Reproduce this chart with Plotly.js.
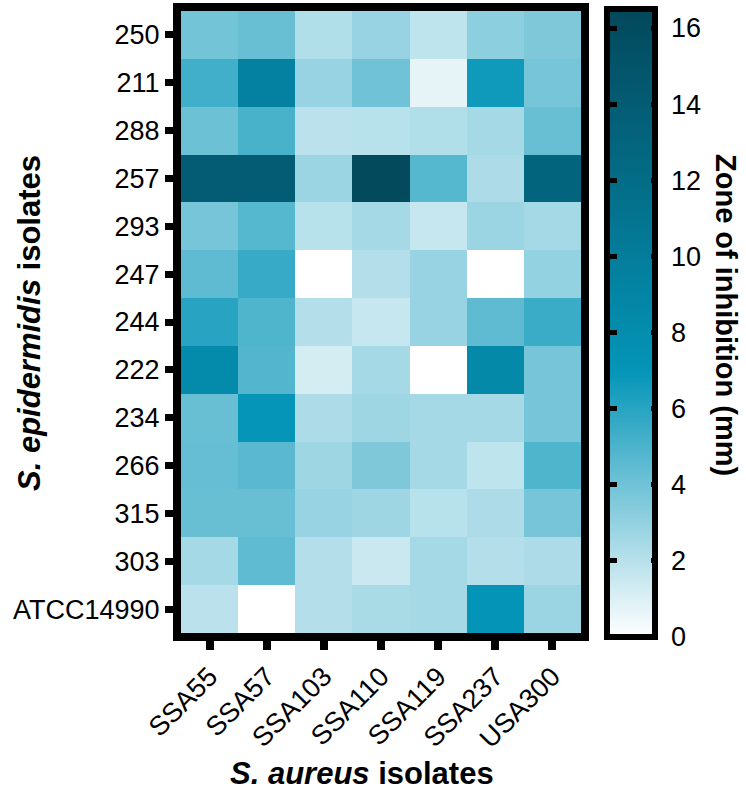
<!DOCTYPE html>
<html>
<head>
<meta charset="utf-8">
<script src="https://cdn.plot.ly/plotly-3.0.1.min.js"></script>
<style>html,body{margin:0;padding:0;background:#fff;}#chart{width:746px;height:796px;}</style>
</head>
<body>
<div id="chart"></div>
<script>
const aureusIsolates = ["SSA55","SSA57","SSA103","SSA110","SSA119","SSA237","USA300"];
const epidermidisIsolates = ["250","211","288","257","293","247","244","222","234","266","315","303","ATCC14990"];
// zone of inhibition (mm), one row per S. epidermidis isolate, columns follow aureusIsolates
const row250 = [3.9, 4.2, 2.2, 2.9, 1.8, 3.2, 3.6];
const row211 = [5.3, 9.5, 2.9, 4.0, 0.7, 6.7, 3.8];
const row288 = [4.1, 5.1, 1.9, 2.0, 2.2, 2.5, 4.2];
const row257 = [14.0, 14.0, 2.8, 16.3, 4.7, 2.3, 13.0];
const row293 = [3.8, 4.7, 2.0, 2.5, 1.6, 2.8, 2.5];
const row247 = [4.5, 5.6, 0, 2.1, 2.9, 0, 3.0];
const row244 = [6.0, 4.9, 2.1, 1.6, 2.9, 4.5, 5.5];
const row222 = [8.4, 4.8, 1.2, 2.5, 0, 8.5, 3.8];
const row234 = [4.2, 7.0, 2.3, 2.7, 2.5, 2.5, 3.8];
const row266 = [4.3, 4.6, 2.7, 3.6, 2.5, 1.8, 4.9];
const row315 = [4.2, 4.2, 2.9, 2.7, 2.0, 2.3, 3.8];
const row303 = [2.5, 4.5, 2.1, 1.5, 2.5, 2.1, 2.3];
const rowATCC14990 = [1.9, 0, 2.1, 2.4, 2.5, 7.1, 2.8];
const colorbarTicks = [0, 2, 4, 6, 8, 10, 12, 14, 16];
const zMax = 16.5;

const z = [row250,row211,row288,row257,row293,row247,row244,row222,row234,row266,row315,row303,rowATCC14990];

const FONT = "Liberation Sans, Arial, sans-serif";
const SCALE = [[0, "#ffffff"], [7/zMax, "#0495b8"], [1, "#03485b"]];
const BLACK = [[0, "#000000"], [1, "#000000"]];

// geometry (pixels)
const W = 746, H = 796;
const M = {l: 181, r: 165, t: 9, b: 163};
const plotW = W - M.l - M.r, plotH = H - M.t - M.b;
const px2x = p => (p - M.l) / plotW;
const px2y = p => (H - M.b - p) / plotH;
const cbLen = 628, cbCenter = 322;

function cbBase(extra) {
  return Object.assign({
    xanchor: "left",
    y: px2y(cbCenter), yanchor: "middle",
    lenmode: "pixels", len: cbLen,
    xpad: 0, ypad: 0,
    bgcolor: "rgba(0,0,0,0)",
    tickmode: "array", tickvals: colorbarTicks, ticktext: colorbarTicks.map(String),
    tickfont: {family: FONT, size: 27, color: "#000"}
  }, extra);
}

function hm(colorbar, scale, opacity) {
  return {
    type: "heatmap", x: aureusIsolates, y: epidermidisIsolates, z: z,
    zmin: 0, zmax: zMax, colorscale: scale, opacity: opacity,
    hoverinfo: opacity ? "x+y+z" : "skip",
    colorbar: colorbar
  };
}

const traces = [
  // main heatmap + colour bar with outline and right-side inside ticks
  hm(cbBase({x: px2x(607), thickness: 48, outlinewidth: 6, outlinecolor: "#000",
    ticks: "inside", ticklen: 7, tickwidth: 5, tickcolor: "#000", showticklabels: false}), SCALE, 1),
  // left-side tick marks (helper bar hidden inside the outline)
  hm(cbBase({x: px2x(604), thickness: 1, outlinewidth: 0,
    ticks: "outside", ticklen: 12, tickwidth: 5, tickcolor: "#000", showticklabels: false}), BLACK, 0),
  // tick labels (helper bar hidden inside the right outline)
  hm(cbBase({x: px2x(655), thickness: 1, outlinewidth: 0,
    ticks: "outside", ticklen: 10, tickwidth: 1, tickcolor: "rgba(0,0,0,0)", showticklabels: true}), BLACK, 0)
];

const layout = {
  width: W, height: H,
  margin: M,
  paper_bgcolor: "#fff", plot_bgcolor: "#fff",
  font: {family: FONT, color: "#000"},
  xaxis: {
    type: "category",
    showline: true, mirror: true, linewidth: 8, linecolor: "#000",
    ticks: "outside", ticklen: 9, tickwidth: 8, tickcolor: "#000",
    tickangle: -45,
    tickfont: {family: FONT, size: 27, color: "#000"},
    showgrid: false, zeroline: false
  },
  yaxis: {
    type: "category", autorange: "reversed",
    showline: true, mirror: true, linewidth: 8, linecolor: "#000",
    ticks: "outside", ticklen: 8, tickwidth: 7, tickcolor: "#000",
    tickfont: {family: FONT, size: 27, color: "#000"},
    showgrid: false, zeroline: false
  },
  annotations: [
    {text: "<b><i>S. aureus</i> isolates</b>", xref: "paper", yref: "paper",
     x: px2x(362), y: px2y(774), xanchor: "center", yanchor: "middle", showarrow: false,
     font: {family: FONT, size: 31, color: "#000"}},
    {text: "<b><i>S. epidermidis</i> isolates</b>", xref: "paper", yref: "paper",
     x: px2x(30), y: px2y(322), xanchor: "center", yanchor: "middle", showarrow: false, textangle: -90,
     font: {family: FONT, size: 31, color: "#000"}},
    {text: "<b>Zone of inhibition (mm)</b>", xref: "paper", yref: "paper",
     x: px2x(726), y: px2y(314), xanchor: "center", yanchor: "middle", showarrow: false, textangle: 90,
     font: {family: FONT, size: 29, color: "#000"}}
  ]
};

Plotly.newPlot("chart", traces, layout, {displayModeBar: false, staticPlot: true});
</script>
</body>
</html>
